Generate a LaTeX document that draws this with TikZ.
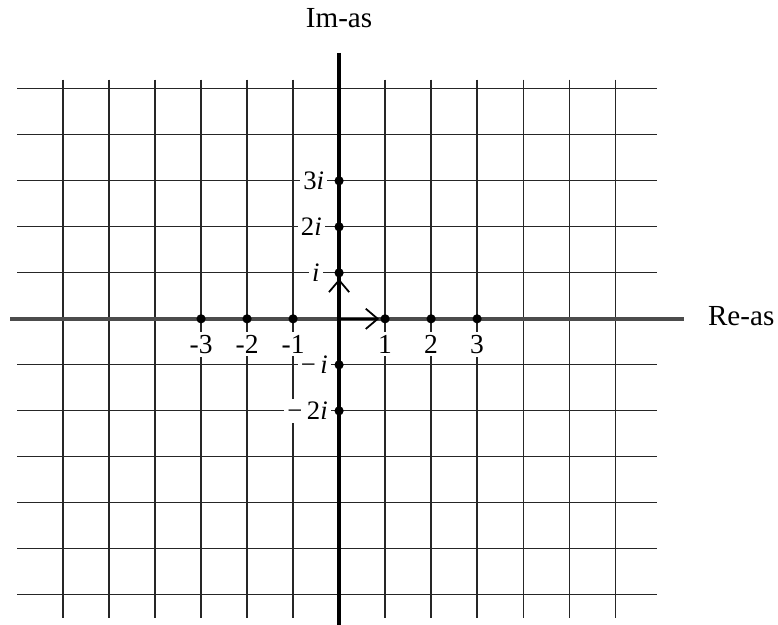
\documentclass[tikz,border=0pt]{standalone}
\usepackage{fontspec}
\setmainfont{Liberation Serif}
\usetikzlibrary{arrows.meta}

\begin{document}
\begin{tikzpicture}
    \tikzset{
        gridstyle/.style={black!85, line width=0.75pt},
        reaxis/.style={black!70, line width=2.6pt},
        imaxis/.style={black, line width=2.4pt},
        vecstyle/.style={-{Straight Barb[length=2.6mm,width=4.4mm,line width=1.1pt]}, line width=1.1pt, shorten >=1.3mm},
        numstyle/.style={fill=white, inner sep=2pt, font=\fontsize{17}{20}\selectfont},
        imstyle/.style={fill=white, inner sep=2pt, anchor=east, font=\fontsize{16.5}{19}\selectfont},
        asstyle/.style={font=\fontsize{18}{21}\selectfont}
    }
    \useasboundingbox (-7.37,-6.65) rectangle (9.54,6.93);

    % Rooster
    \foreach \y in {-6,...,5} \draw[gridstyle] (-7,\y) -- (6.9,\y);
    \foreach \x in {-6,...,6} \draw[gridstyle] (\x,5.2) -- (\x,-6.5);

    % Getallen op de reele as
    \foreach \x/\n/\l in {-3/m3/-3,-2/m2/-2,-1/m1/-1,1/p1/1,2/p2/2,3/p3/3} {
        \node[numstyle] (lr\n) at (\x,-0.55) {\l};
    }

    % Getallen op de imaginaire as
    \node[imstyle] (li3) at (-0.25,3) {3\textit{i}};
    \node[imstyle] (li2) at (-0.3,2) {2\textit{i}};
    \node[imstyle] (li1) at (-0.35,1) {\textit{i}};
    \node[imstyle] (lim1) at (-0.17,-1) {−\,\textit{i}};
    \node[imstyle] (lim2) at (-0.17,-2) {−\,2\textit{i}};

    % Assen
    \coordinate (O) at (0,0);
    \draw[reaxis] (-7.15,0) -- (7.5,0);
    \draw[imaxis] (0,5.78) -- (0,-6.65);
    \node[asstyle] (imas) at (0,6.54) {Im-as};
    \node[asstyle] (reas) at (8.74,0.05) {Re-as};

    % Punten
    \foreach \x/\n in {-3/m3,-2/m2,-1/m1,1/p1,2/p2,3/p3} {
        \coordinate (r\n) at (\x,0);
        \fill (r\n) circle (0.1);
    }
    \foreach \y/\n in {-2/m2,-1/m1,1/p1,2/p2,3/p3} {
        \coordinate (i\n) at (0,\y);
        \fill (i\n) circle (0.1);
    }

    % Eenheidsvectoren
    \draw[vecstyle] (O) -- (rp1);
    \draw[vecstyle] (O) -- (ip1);

\end{tikzpicture}
\end{document}
